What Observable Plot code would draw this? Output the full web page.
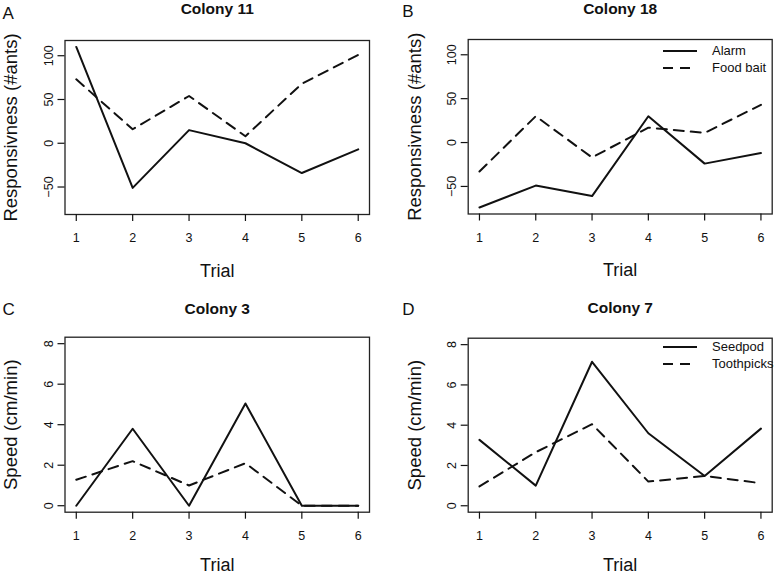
<!DOCTYPE html>
<html>
<head>
<meta charset="utf-8">
<script src="https://cdn.jsdelivr.net/npm/d3@7"></script>
<script src="https://cdn.jsdelivr.net/npm/@observablehq/plot@0.6"></script>
<style>
  html, body { margin: 0; padding: 0; background: #fff; }
  #root { position: relative; width: 774px; height: 576px; overflow: hidden; font-family: "Liberation Sans", Arial, sans-serif; }
  .panel { position: absolute; }
  .legend { position: absolute; font-size: 13px; color: #111; line-height: 16.5px; }
  .legend .row { display: flex; align-items: center; white-space: nowrap; }
  .legend svg { margin-right: 15px; }
</style>
</head>
<body>
<div id="root"></div>
<script>
// ---- data ----
const trials = [1, 2, 3, 4, 5, 6];
const colony11Alarm = [110, -51, 15, 0, -34, -7];
const colony11Food = [73, 16, 54, 8, 68, 101];
const colony18Alarm = [-74, -49, -61, 30, -24, -12];
const colony18Food = [-33, 30, -17, 17, 11, 43];
const colony3Seedpod = [0, 3.8, 0, 5.05, 0, 0];
const colony3Toothpicks = [1.28, 2.2, 1.0, 2.1, 0, 0];
const colony7Seedpod = [3.27, 1.0, 7.15, 3.6, 1.48, 3.83];
const colony7Toothpicks = [0.96, 2.66, 4.05, 1.2, 1.48, 1.12];
const respTicks = [-50, 0, 50, 100];
const speedTicks = [0, 2, 4, 6, 8];
const respLabel = "Responsivness (#ants)";
const speedLabel = "Speed (cm/min)";
const xLabel = "Trial";

const FONT = "'Liberation Sans', Arial, sans-serif";
const DASH = "10,7";

function panel(cfg) {
  const solid = trials.map((t, i) => ({trial: t, value: cfg.solid[i]}));
  const dashed = trials.map((t, i) => ({trial: t, value: cfg.dashed[i]}));
  const chart = Plot.plot({
    width: 387,
    height: 288,
    marginLeft: cfg.ml,
    marginRight: cfg.mr,
    marginTop: cfg.mt,
    marginBottom: cfg.mb,
    style: {fontFamily: FONT, background: "transparent", color: "#111", overflow: "visible"},
    x: {domain: [0.8, 6.2]},
    y: {domain: cfg.ydomain},
    marks: [
      Plot.frame({stroke: "#222", strokeWidth: 1.3}),
      Plot.axisX({ticks: trials, tickFormat: d3.format("d"), tickSize: 7, tickPadding: 12, fontSize: 12.5, label: null, strokeWidth: 1.2}),
      Plot.axisY({ticks: cfg.yticks, tickFormat: d3.format("d"), tickSize: 7, tickPadding: 5, tickRotate: -90, fontSize: 12.5, label: null, strokeWidth: 1.2}),
      Plot.line(dashed, {x: "trial", y: "value", stroke: "#111", strokeWidth: 2, strokeDasharray: DASH}),
      Plot.line(solid, {x: "trial", y: "value", stroke: "#111", strokeWidth: 2}),
      Plot.text([cfg.title], {frameAnchor: "top", text: d => d, dy: cfg.titleDy, fontSize: 15.5, fontWeight: "bold", lineAnchor: "middle", fill: "#111"}),
      Plot.text([cfg.letter], {frameAnchor: "top-left", text: d => d, dx: cfg.letterDx, dy: cfg.letterDy, fontSize: 17, textAnchor: "start", lineAnchor: "middle", fill: "#111"}),
      Plot.text([cfg.ylabel], {frameAnchor: "left", text: d => d, rotate: -90, dx: -53.5, fontSize: 18.5, textAnchor: "middle", lineAnchor: "middle", fill: "#111"}),
      Plot.text([xLabel], {frameAnchor: "bottom", text: d => d, dy: cfg.xlabDy, fontSize: 18, textAnchor: "middle", lineAnchor: "middle", fill: "#111"})
    ]
  });
  const div = document.createElement("div");
  div.className = "panel";
  div.style.left = cfg.left + "px";
  div.style.top = cfg.top + "px";
  div.appendChild(chart);
  document.getElementById("root").appendChild(div);
}

function legend(left, top, labels) {
  const div = document.createElement("div");
  div.className = "legend";
  div.style.left = left + "px";
  div.style.top = top + "px";
  labels.forEach((lab, i) => {
    const row = document.createElement("div");
    row.className = "row";
    row.innerHTML = `<svg width="34" height="8"><line x1="0" x2="34" y1="4" y2="4" stroke="#111" stroke-width="2" ${i === 1 ? `stroke-dasharray="10,7"` : ""}/></svg><span>${lab}</span>`;
    div.appendChild(row);
  });
  document.getElementById("root").appendChild(div);
}

panel({left: 0, top: 0, ml: 64.5, mr: 18, mt: 40, mb: 74, ydomain: [-81.4, 117.4], yticks: respTicks,
  solid: colony11Alarm, dashed: colony11Food, title: "Colony 11", letter: "A", ylabel: respLabel,
  titleDy: -31, letterDx: -62.5, letterDy: -27, xlabDy: 56.5});
panel({left: 387, top: 0, ml: 80.7, mr: 2.3, mt: 39, mb: 74.5, ydomain: [-81.4, 117.4], yticks: respTicks,
  solid: colony18Alarm, dashed: colony18Food, title: "Colony 18", letter: "B", ylabel: respLabel,
  titleDy: -30, letterDx: -66, letterDy: -28, xlabDy: 56.5});
panel({left: 0, top: 288, ml: 64.5, mr: 18, mt: 48.7, mb: 64.3, ydomain: [-0.32, 8.32], yticks: speedTicks,
  solid: colony3Seedpod, dashed: colony3Toothpicks, title: "Colony 3", letter: "C", ylabel: speedLabel,
  titleDy: -27.7, letterDx: -62.5, letterDy: -27.5, xlabDy: 53});
panel({left: 387, top: 288, ml: 80.7, mr: 2.3, mt: 49.7, mb: 64.3, ydomain: [-0.32, 8.32], yticks: speedTicks,
  solid: colony7Seedpod, dashed: colony7Toothpicks, title: "Colony 7", letter: "D", ylabel: speedLabel,
  titleDy: -29.7, letterDx: -66, letterDy: -28.5, xlabDy: 53});

legend(663, 43, ["Alarm", "Food bait"]);
legend(663, 339, ["Seedpod", "Toothpicks"]);
</script>
</body>
</html>
